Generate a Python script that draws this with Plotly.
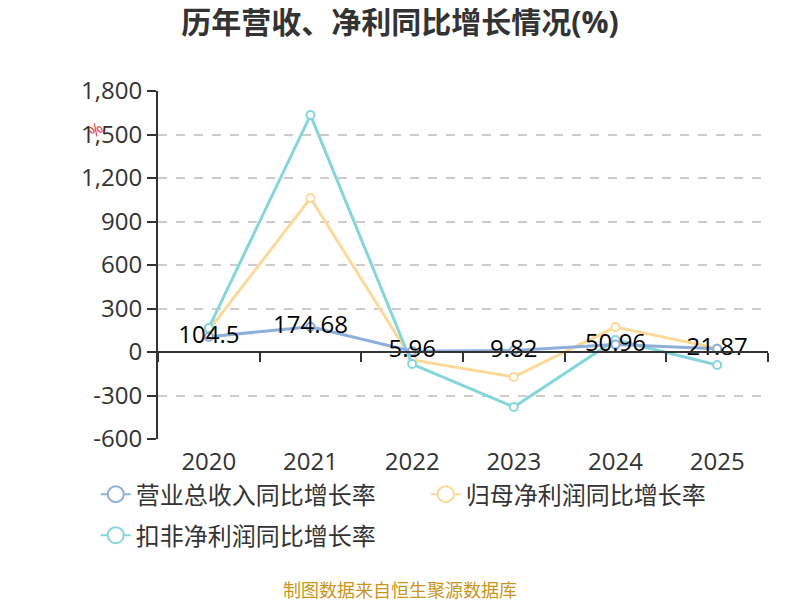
import plotly.graph_objects as go

years = ["2020", "2021", "2022", "2023", "2024", "2025"]
revenue_growth = [104.5, 174.68, 5.96, 9.82, 50.96, 21.87]
parent_profit_growth = [150, 1062, -55, -172, 172, 25]
deducted_profit_growth = [166, 1634, -83, -379, 83, -90]
y_ticks = [-600, -300, 0, 300, 600, 900, 1200, 1500, 1800]
y_tick_labels = [f"{v:,}" for v in y_ticks]

names = ["营业总收入同比增长率", "归母净利润同比增长率", "扣非净利润同比增长率"]
colors = ["#8eaedc", "#fcd999", "#86d6d9"]
series = [revenue_growth, parent_profit_growth, deducted_profit_growth]
legend_ids = ["legend", "legend", "legend2"]

FONT = "Open Sans, Noto Sans CJK SC, sans-serif"

fig = go.Figure()
for i in [1, 2, 0]:
    fig.add_trace(go.Scatter(
        x=years, y=series[i], name=names[i], mode="lines+markers",
        line=dict(color=colors[i], width=3),
        marker=dict(symbol="circle", size=8, color="white", line=dict(color=colors[i], width=2)),
        showlegend=False, hoverinfo="skip"))
fig.add_trace(go.Scatter(
    x=years, y=revenue_growth, mode="text", text=[f"{v:g}" for v in revenue_growth],
    textposition="middle center", textfont=dict(size=24, color="#000000", family=FONT),
    showlegend=False, hoverinfo="skip", cliponaxis=False))
# legend entries
for i in range(3):
    fig.add_trace(go.Scatter(
        x=[None], y=[None], name=names[i], mode="lines+markers", legend=legend_ids[i],
        line=dict(color=colors[i], width=2),
        marker=dict(symbol="circle", size=18, color="white", line=dict(color=colors[i], width=2))))
# axis line at zero
fig.add_trace(go.Scatter(x=years, y=revenue_growth, xaxis="x2", mode="markers",
                         marker=dict(opacity=0), showlegend=False, hoverinfo="skip"))

legend_common = dict(orientation="h", xanchor="left", yanchor="top",
                     entrywidth=285, entrywidthmode="pixels", itemsizing="trace",
                     font=dict(size=24, color="#333333", family=FONT),
                     bgcolor="rgba(0,0,0,0)")

fig.update_layout(
    width=792, height=592,
    paper_bgcolor="white", plot_bgcolor="white",
    margin=dict(l=150, r=32, t=83, b=161),
    title=dict(text="<b>历年营收、净利同比增长情况(%)</b>", x=0.495, xanchor="center", y=0.976,
               yanchor="middle", font=dict(size=30, color="#333333", family=FONT)),
    font=dict(family=FONT, color="#333333"),
    xaxis=dict(type="category", categoryorder="array", categoryarray=years, range=[-0.5, 5.5],
               showline=False, showgrid=False, ticks="", zeroline=False, automargin=False,
               tickfont=dict(size=24, color="#333333"), ticklabelstandoff=6),
    xaxis2=dict(type="category", categoryorder="array", categoryarray=years, range=[-0.5, 5.5],
                overlaying="x", anchor="free", position=0.25, side="bottom",
                showline=True, linecolor="#333333", linewidth=2,
                ticks="outside", tickson="boundaries", ticklen=9, tickwidth=2, tickcolor="#333333",
                showticklabels=False, showgrid=False, zeroline=False),
    yaxis=dict(range=[-600, 1800], tickvals=y_ticks, ticktext=y_tick_labels, automargin=False,
               showline=True, linecolor="#333333", linewidth=2,
               ticks="outside", ticklen=9, tickwidth=2, tickcolor="#333333",
               showgrid=True, gridcolor="#cccccc", griddash="dash", gridwidth=1.5,
               zeroline=False, tickfont=dict(size=24, color="#333333")),
    legend=dict(x=-0.102, y=-0.095, **legend_common),
    legend2=dict(x=-0.102, y=-0.213, **legend_common),
    annotations=[
        dict(text="制图数据来自恒生聚源数据库", xref="paper", yref="paper", x=0.397, y=-0.434,
             xanchor="center", yanchor="middle", showarrow=False,
             font=dict(size=18, color="#c8961e", family=FONT)),
        dict(text="%", xref="paper", yref="paper", x=-0.103, y=0.888, xanchor="center",
             yanchor="middle", showarrow=False, textangle=-40,
             font=dict(size=16, color="#e8262a")),
    ],
)

fig.write_html("out.html")
